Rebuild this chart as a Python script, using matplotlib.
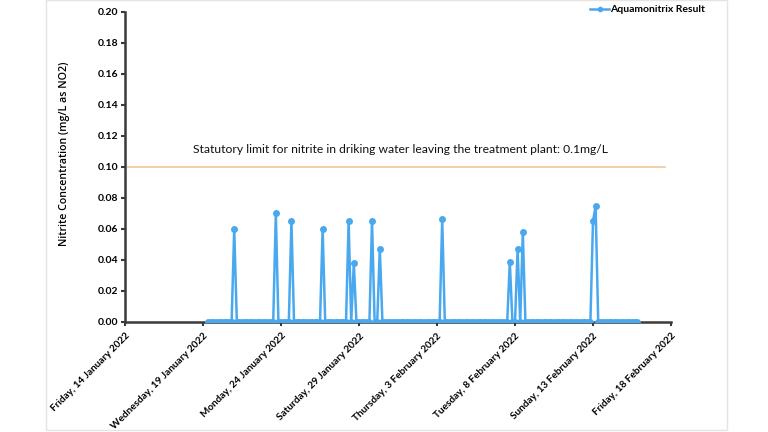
import matplotlib
matplotlib.use("Agg")
import matplotlib.pyplot as plt
from matplotlib.patches import Rectangle
import pandas as pd
import numpy as np

# ---- data ----
series_label = "Aquamonitrix Result"
sampling_start = "2022-01-19 08:00"
sampling_end = "2022-02-15 20:00"
sampling_step = "4h"
spike_times = ["2022-01-21 00:00", "2022-01-23 16:00", "2022-01-24 16:00",
               "2022-01-26 16:00", "2022-01-28 08:00", "2022-01-28 16:00",
               "2022-01-29 20:00", "2022-01-30 08:00", "2022-02-03 08:00",
               "2022-02-07 16:00", "2022-02-08 04:00", "2022-02-08 12:00",
               "2022-02-13 00:00", "2022-02-13 04:00"]
spike_values = [0.060, 0.070, 0.065, 0.060, 0.065, 0.038, 0.065, 0.047,
                0.066, 0.0385, 0.047, 0.058, 0.065, 0.0745]
limit_value = 0.10
limit_text = "Statutory limit for nitrite in driking water leaving the treatment plant: 0.1mg/L"
tick_dates = ["2022-01-14", "2022-01-19", "2022-01-24", "2022-01-29",
              "2022-02-03", "2022-02-08", "2022-02-13", "2022-02-18"]
tick_labels = ["Friday, 14 January 2022", "Wednesday, 19 January 2022",
               "Monday, 24 January 2022", "Saturday, 29 January 2022",
               "Thursday, 3 February 2022", "Tuesday, 8 February 2022",
               "Sunday, 13 February 2022", "Friday, 18 February 2022"]
y_label = "Nitrite Concentration (mg/L as NO2)"

# build series
times = pd.date_range(sampling_start, sampling_end, freq=sampling_step)
s = pd.Series(0.0, index=times)
for t, v in zip(pd.to_datetime(spike_times), spike_values):
    s.loc[t] = v
s = s.sort_index()

plt.rcParams['font.family'] = ['Lato', 'DejaVu Sans']

fig = plt.figure(figsize=(7.68, 4.32), dpi=100)
fig.patches.append(Rectangle((46/768, 0.004), (727-46)/768, 0.996, transform=fig.transFigure,
                             fill=False, edgecolor='#e4e4e4', linewidth=1.0))
ax = fig.add_axes([0.1628, 0.2553, 0.8737 - 0.1628, 0.973 - 0.2553])

blue = '#4aa8ef'
ax.plot(s.index, s.values, color=blue, lw=1.8, marker='o', ms=5.0,
        markeredgewidth=0, label=series_label, zorder=3)

xmin = pd.Timestamp(tick_dates[0]); xmax = pd.Timestamp(tick_dates[-1])
ax.plot([xmin + pd.Timedelta(hours=4), xmax - pd.Timedelta(hours=10)], [limit_value, limit_value],
        color='#f2cba5', lw=1.3, zorder=2)
ax.text(pd.Timestamp("2022-01-18 09:00"), 0.1075, limit_text, fontsize=8.7, color='#111111',
        ha='left', va='bottom')

ax.set_xlim(xmin, xmax)
ax.set_ylim(0, 0.20)
ax.set_yticks(np.arange(0, 0.2001, 0.02))
ax.set_yticklabels([f"{v:.2f}" for v in np.arange(0, 0.2001, 0.02)], fontsize=7.5, fontweight='bold')
ax.set_xticks(pd.to_datetime(tick_dates))
ax.set_xticklabels(tick_labels, rotation=45, ha='right', rotation_mode='anchor',
                   fontsize=7.2, fontweight='bold')
ax.set_ylabel(y_label, fontsize=7.7, fontweight='semibold',
              family=['Open Sans', 'DejaVu Sans'])
ax.yaxis.set_label_coords(-0.1, 0.543)

for sp in ['top', 'right']:
    ax.spines[sp].set_visible(False)
for sp in ['left', 'bottom']:
    ax.spines[sp].set_color('#3a3a3a')
    ax.spines[sp].set_linewidth(1.8)
ax.tick_params(axis='both', direction='out', length=3, width=1.5, color='#3a3a3a', pad=2)
ax.tick_params(axis='x', pad=4)

leg = fig.legend(loc='upper right', bbox_to_anchor=(0.93, 1.01), frameon=False,
                 prop={'weight': 'bold', 'size': 7.5}, handlelength=1.8,
                 handletextpad=0.1, markerscale=0.8)

fig.savefig("out.png", dpi=100)
